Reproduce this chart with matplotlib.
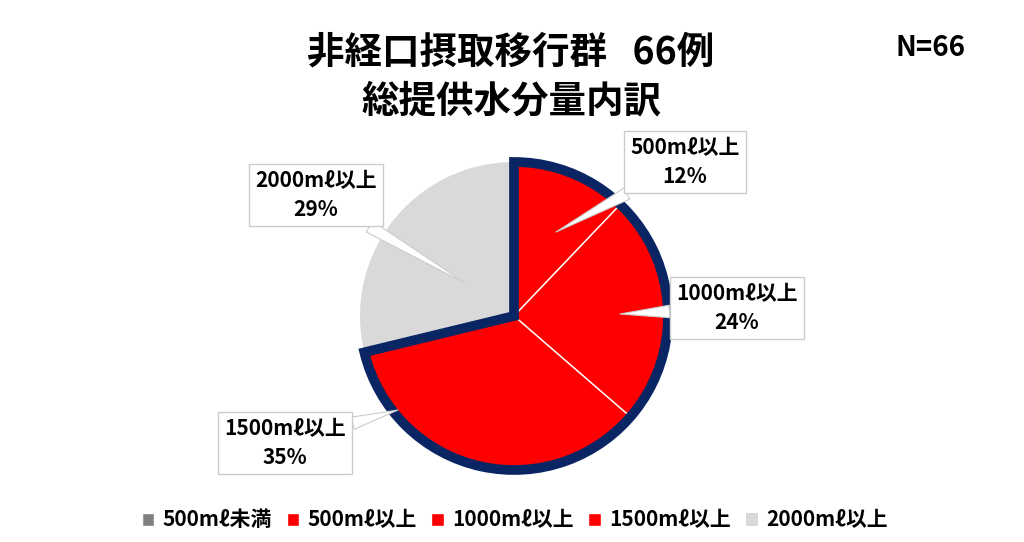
import matplotlib.pyplot as plt
from matplotlib.patches import Wedge

plt.rcParams['font.family'] = ['Noto Sans CJK JP', 'DejaVu Sans']

# データ (66例の内訳)
categories = ['500mℓ未満', '500mℓ以上', '1000mℓ以上', '1500mℓ以上', '2000mℓ以上']
counts = [0, 8, 16, 23, 19]
pct_labels = ['0%', '12%', '24%', '35%', '29%']
colors = ['#808080', '#FF0000', '#FF0000', '#FF0000', '#D9D9D9']

W, H = 1024, 542
fig = plt.figure(figsize=(W / 100, H / 100), dpi=100)
ax = fig.add_axes([0, 0, 1, 1])

cx, cy, r = 514, H - 316, 154
wedges, _ = ax.pie(counts, colors=colors, startangle=90, counterclock=False,
                   center=(cx, cy), radius=r, frame=True,
                   wedgeprops=dict(edgecolor='white', linewidth=1))
ax.set_xlim(0, W)
ax.set_ylim(0, H)
ax.set_aspect('equal')
ax.axis('off')
wedges[4].set_edgecolor('none')

# 赤の部分を紺色で囲む
red = wedges[1:4]
t1 = min(w.theta1 for w in red)
t2 = max(w.theta2 for w in red)
ax.add_patch(Wedge((cx, cy), r, t1, t2, fill=False, edgecolor='#0A2564',
                   linewidth=7, joinstyle='miter', zorder=5))

# 吹き出しラベル
label_pos = {1: (685, H - 162), 2: (737, H - 308), 3: (285, H - 443), 4: (316, H - 195)}
tip_pos = {1: (556, H - 232), 2: (620, H - 314), 3: (398, H - 410), 4: (465, H - 283)}
for i, (tx, ty) in label_pos.items():
    ax.annotate(f'{categories[i]}\n{pct_labels[i]}', xy=tip_pos[i], xytext=(tx, ty),
                ha='center', va='center', fontsize=15, fontweight='bold',
                linespacing=1.45, zorder=6,
                bbox=dict(boxstyle='square,pad=0.3', fc='white', ec='#CCCCCC', lw=1),
                arrowprops=dict(arrowstyle='wedge,tail_width=0.6,shrink_factor=0.5',
                                fc='white', ec='#CCCCCC', lw=0.8, shrinkA=0, shrinkB=0))

ax.text(511, H - 52, '非経口摂取移行群   66例', ha='center', va='center',
        fontsize=27, fontweight='bold')
ax.text(511, H - 101, '総提供水分量内訳', ha='center', va='center',
        fontsize=27, fontweight='bold')
ax.text(930, H - 48, 'N=66', ha='center', va='center', fontsize=20, fontweight='bold')

ax.legend(wedges, categories, loc='center', bbox_to_anchor=(515 / W, 1 - 520 / H),
          ncol=5, frameon=False, prop=dict(size=15, weight='bold'),
          handlelength=0.6, handleheight=0.6, handletextpad=0.4, columnspacing=0.7)

fig.savefig('out.png', dpi=100)
